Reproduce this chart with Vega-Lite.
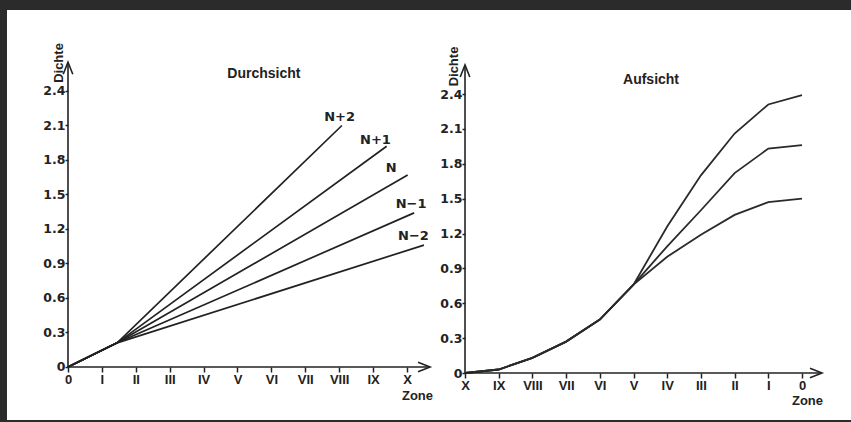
{
  "$schema": "https://vega.github.io/schema/vega-lite/v6.json",
  "background": "#2b2b2b",
  "padding": {"left": 7, "top": 10, "right": 0, "bottom": 2},
  "bounds": "flush",
  "spacing": 0,
  "datasets": {
    "durch": [
      {"series": "N+2", "zone": 0, "dichte": 0}, {"series": "N+2", "zone": 1.45, "dichte": 0.21}, {"series": "N+2", "zone": 8.08, "dichte": 2.10},
      {"series": "N+1", "zone": 0, "dichte": 0}, {"series": "N+1", "zone": 1.45, "dichte": 0.21}, {"series": "N+1", "zone": 9.40, "dichte": 1.92},
      {"series": "N", "zone": 0, "dichte": 0}, {"series": "N", "zone": 1.45, "dichte": 0.21}, {"series": "N", "zone": 10.02, "dichte": 1.67},
      {"series": "N−1", "zone": 0, "dichte": 0}, {"series": "N−1", "zone": 1.45, "dichte": 0.21}, {"series": "N−1", "zone": 10.21, "dichte": 1.34},
      {"series": "N−2", "zone": 0, "dichte": 0}, {"series": "N−2", "zone": 1.45, "dichte": 0.21}, {"series": "N−2", "zone": 10.50, "dichte": 1.06}
    ],
    "labels": [
      {"series": "N+2", "zone": 8.01, "dichte": 2.17},
      {"series": "N+1", "zone": 9.07, "dichte": 1.97},
      {"series": "N", "zone": 9.53, "dichte": 1.73},
      {"series": "N−1", "zone": 10.12, "dichte": 1.42},
      {"series": "N−2", "zone": 10.19, "dichte": 1.14}
    ],
    "auf": [
      {"curve": "a", "zone": 10, "dichte": 0}, {"curve": "a", "zone": 9, "dichte": 0.03}, {"curve": "a", "zone": 8, "dichte": 0.13}, {"curve": "a", "zone": 7, "dichte": 0.27}, {"curve": "a", "zone": 6, "dichte": 0.46}, {"curve": "a", "zone": 5, "dichte": 0.76},
      {"curve": "a", "zone": 4, "dichte": 1.26}, {"curve": "a", "zone": 3, "dichte": 1.70}, {"curve": "a", "zone": 2, "dichte": 2.06}, {"curve": "a", "zone": 1, "dichte": 2.31}, {"curve": "a", "zone": 0, "dichte": 2.39},
      {"curve": "b", "zone": 10, "dichte": 0}, {"curve": "b", "zone": 9, "dichte": 0.03}, {"curve": "b", "zone": 8, "dichte": 0.13}, {"curve": "b", "zone": 7, "dichte": 0.27}, {"curve": "b", "zone": 6, "dichte": 0.46}, {"curve": "b", "zone": 5, "dichte": 0.76},
      {"curve": "b", "zone": 4, "dichte": 1.09}, {"curve": "b", "zone": 3, "dichte": 1.40}, {"curve": "b", "zone": 2, "dichte": 1.72}, {"curve": "b", "zone": 1, "dichte": 1.93}, {"curve": "b", "zone": 0, "dichte": 1.96},
      {"curve": "c", "zone": 10, "dichte": 0}, {"curve": "c", "zone": 9, "dichte": 0.03}, {"curve": "c", "zone": 8, "dichte": 0.13}, {"curve": "c", "zone": 7, "dichte": 0.27}, {"curve": "c", "zone": 6, "dichte": 0.46}, {"curve": "c", "zone": 5, "dichte": 0.76},
      {"curve": "c", "zone": 4, "dichte": 1.00}, {"curve": "c", "zone": 3, "dichte": 1.19}, {"curve": "c", "zone": 2, "dichte": 1.36}, {"curve": "c", "zone": 1, "dichte": 1.47}, {"curve": "c", "zone": 0, "dichte": 1.50}
    ],
    "one": [{}]
  },
  "config": {
    "view": {"fill": "white", "stroke": null},
    "axis": {
      "grid": false,
      "domain": false,
      "ticks": true,
      "tickColor": "#222",
      "tickWidth": 1.5,
      "labelColor": "#222",
      "labelFontWeight": "bold",
      "labelOverlap": false,
      "labelFlush": false,
      "titleColor": "#222",
      "titleFont": "Liberation Sans",
      "titleFontWeight": "bold",
      "titleFontSize": 13
    }
  },
  "hconcat": [
    {
      "width": 430,
      "height": 410,
      "layer": [
        {
          "data": {"name": "durch"},
          "mark": {"type": "line", "color": "#222", "strokeWidth": 1.7},
          "encoding": {
            "x": {
              "field": "zone", "type": "quantitative",
              "scale": {"domain": [-1.799, 10.885], "nice": false, "zero": false},
              "axis": {
                "values": [0, 1, 2, 3, 4, 5, 6, 7, 8, 9, 10],
                "labelExpr": "['0','I','II','III','IV','V','VI','VII','VIII','IX','X'][datum.value]",
                "labelFont": "Liberation Sans", "labelFontSize": 13, "labelPadding": 1,
                "tickSize": 5, "offset": -53,
                "title": "Zone", "titleX": 410, "titleY": 28, "titleAlign": "center", "titleBaseline": "middle"
              }
            },
            "y": {
              "field": "dichte", "type": "quantitative",
              "scale": {"domain": [-0.4609, 3.1043], "nice": false, "zero": false},
              "axis": {
                "values": [0, 0.3, 0.6, 0.9, 1.2, 1.5, 1.8, 2.1, 2.4],
                "labelExpr": "datum.value == 0 ? '0' : format(datum.value, '.1f')",
                "labelFont": "DejaVu Sans", "labelFontSize": 12.5, "labelPadding": 0,
                "tickSize": 3, "offset": -61,
                "title": "Dichte", "titleX": -10, "titleY": 52.5, "titleAngle": -90, "titleAlign": "center", "titleBaseline": "middle"
              }
            },
            "detail": {"field": "series"}
          }
        },
        {
          "data": {"name": "labels"},
          "mark": {"type": "text", "font": "DejaVu Sans", "fontWeight": "bold", "fontSize": 13, "color": "#222", "align": "center", "baseline": "middle"},
          "encoding": {
            "x": {"field": "zone", "type": "quantitative"},
            "y": {"field": "dichte", "type": "quantitative"},
            "text": {"field": "series"}
          }
        },
        {
          "data": {"name": "one"},
          "mark": {"type": "rule", "color": "#222", "strokeWidth": 1.6},
          "encoding": {"x": {"datum": 0}, "x2": {"datum": 10.68}, "y": {"datum": 0}}
        },
        {
          "data": {"name": "one"},
          "mark": {"type": "rule", "color": "#222", "strokeWidth": 1.6},
          "encoding": {"x": {"datum": 0}, "y": {"datum": 0}, "y2": {"datum": 2.65}}
        },
        {
          "data": {"name": "one"},
          "mark": {"type": "point", "shape": "M-1,-0.8L1,0L-1,0.8", "filled": false, "color": "#222", "strokeWidth": 1.6, "size": 144, "opacity": 1},
          "encoding": {"x": {"datum": 10.503}, "y": {"datum": 0}}
        },
        {
          "data": {"name": "one"},
          "mark": {"type": "point", "shape": "M-0.8,1L0,-1L0.8,1", "filled": false, "color": "#222", "strokeWidth": 1.6, "size": 144, "opacity": 1},
          "encoding": {"x": {"datum": 0}, "y": {"datum": 2.598}}
        },
        {
          "data": {"name": "one"},
          "mark": {"type": "text", "font": "Liberation Sans", "fontWeight": "bold", "fontSize": 14, "color": "#222", "align": "center", "baseline": "middle"},
          "encoding": {"x": {"datum": 5.78}, "y": {"datum": 2.548}, "text": {"value": "Durchsicht"}}
        }
      ]
    },
    {
      "width": 414,
      "height": 410,
      "layer": [
        {
          "data": {"name": "auf"},
          "mark": {"type": "line", "color": "#2a2a2a", "strokeWidth": 1.8},
          "encoding": {
            "x": {
              "field": "zone", "type": "quantitative",
              "scale": {"domain": [-1.454, 10.831], "nice": false, "zero": false, "reverse": true},
              "axis": {
                "values": [0, 1, 2, 3, 4, 5, 6, 7, 8, 9, 10],
                "labelExpr": "['0','I','II','III','IV','V','VI','VII','VIII','IX','X'][datum.value]",
                "labelFont": "Liberation Sans", "labelFontSize": 13, "labelPadding": 1,
                "tickSize": 5, "offset": -47,
                "title": "Zone", "titleX": 370, "titleY": 27, "titleAlign": "center", "titleBaseline": "middle"
              }
            },
            "y": {
              "field": "dichte", "type": "quantitative",
              "scale": {"domain": [-0.4043, 3.1226], "nice": false, "zero": false},
              "axis": {
                "values": [0, 0.3, 0.6, 0.9, 1.2, 1.5, 1.8, 2.1, 2.4],
                "labelExpr": "datum.value == 0 ? '0' : format(datum.value, '.1f')",
                "labelFont": "DejaVu Sans", "labelFontSize": 12.5, "labelPadding": 0,
                "tickSize": 3, "offset": -28,
                "title": "Dichte", "titleX": -11.5, "titleY": 56, "titleAngle": -90, "titleAlign": "center", "titleBaseline": "middle"
              }
            },
            "detail": {"field": "curve"}
          }
        },
        {
          "data": {"name": "one"},
          "mark": {"type": "rule", "color": "#222", "strokeWidth": 1.6},
          "encoding": {"x": {"datum": 10}, "x2": {"datum": -0.59}, "y": {"datum": 0}}
        },
        {
          "data": {"name": "one"},
          "mark": {"type": "rule", "color": "#222", "strokeWidth": 1.6},
          "encoding": {"x": {"datum": 10}, "y": {"datum": 0}, "y2": {"datum": 2.65}}
        },
        {
          "data": {"name": "one"},
          "mark": {"type": "point", "shape": "M-1,-0.8L1,0L-1,0.8", "filled": false, "color": "#222", "strokeWidth": 1.6, "size": 144, "opacity": 1},
          "encoding": {"x": {"datum": -0.415}, "y": {"datum": 0}}
        },
        {
          "data": {"name": "one"},
          "mark": {"type": "point", "shape": "M-0.8,1L0,-1L0.8,1", "filled": false, "color": "#222", "strokeWidth": 1.6, "size": 144, "opacity": 1},
          "encoding": {"x": {"datum": 10}, "y": {"datum": 2.598}}
        },
        {
          "data": {"name": "one"},
          "mark": {"type": "text", "font": "Liberation Sans", "fontWeight": "bold", "fontSize": 14, "color": "#222", "align": "center", "baseline": "middle"},
          "encoding": {"x": {"datum": 4.48}, "y": {"datum": 2.52}, "text": {"value": "Aufsicht"}}
        }
      ]
    }
  ]
}
